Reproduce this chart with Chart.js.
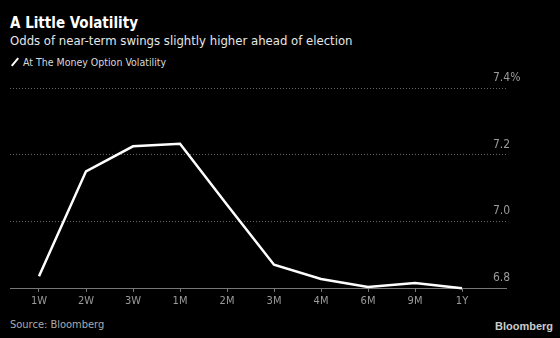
<!DOCTYPE html>
<html>
<head>
<meta charset="utf-8">
<script src="https://cdn.jsdelivr.net/npm/chart.js@4"></script>
<style>
    html, body { margin: 0; padding: 0; background: #000; }
    body { width: 560px; height: 338px; position: relative; overflow: hidden; font-family: "DejaVu Sans Condensed", "DejaVu Sans", sans-serif; }
    .title { position: absolute; left: 10px; top: 14px; color: #fff; font-size: 15px; font-weight: bold; }
    .subtitle { position: absolute; left: 10px; top: 33px; color: #e6e6e6; font-size: 13px; }
    .legend { position: absolute; left: 10px; top: 56px; color: #d9d9d9; font-size: 10.5px; }
    .legend i { display: inline-block; width: 2px; height: 10px; background: #fff; transform: rotate(40deg); margin: 0 7px 0 4px; vertical-align: -1px; }
    .source { position: absolute; left: 10px; top: 318px; color: #aaa; font-size: 11px; }
    .brand { position: absolute; right: 7px; top: 320px; color: #ccc; font-size: 11px; font-weight: bold; font-family: "Liberation Sans", sans-serif; }
    canvas { position: absolute; left: 0; top: 0; }
</style>
</head>
<body>
<div class="title">A Little Volatility</div>
<div class="subtitle">Odds of near-term swings slightly higher ahead of election</div>
<div class="legend"><i></i>At The Money Option Volatility</div>
<div class="source">Source: Bloomberg</div>
<div class="brand">Bloomberg</div>
<canvas id="chart" width="560" height="338"></canvas>
<script>
// Chart data
const tenors = ['1W', '2W', '3W', '1M', '2M', '3M', '4M', '6M', '9M', '1Y'];
const volatility = [6.835, 7.15, 7.225, 7.233, 7.05, 6.87, 6.827, 6.803, 6.815, 6.799];
const yTicks = [6.8, 7.0, 7.2, 7.4];

const grey = '#9a9a9a';
const fontFamily = '"DejaVu Sans Condensed", "DejaVu Sans", sans-serif';

// y labels sit just above their grid line, left-aligned
const yLabels = {
    id: 'yLabels',
    afterDraw: chart => {
        const y = chart.scales.y;
        const c = chart.ctx;
        c.save();
        c.fillStyle = grey;
        c.font = '12px ' + fontFamily;
        c.textAlign = 'left';
        c.textBaseline = 'bottom';
        yTicks.forEach(v => {
            const label = v === 7.4 ? '7.4%' : v.toFixed(1);
            c.fillText(label, chart.chartArea.right - 13, y.getPixelForValue(v) - 4);
        });
        c.restore();
    }
};

const ctx = document.getElementById('chart').getContext('2d');
new Chart(ctx, {
    type: 'line',
    data: {
        datasets: [{
            label: 'At The Money Option Volatility',
            data: volatility.map((v, i) => ({ x: i, y: v })),
            borderColor: '#fff',
            borderWidth: 2.5,
            pointRadius: 0,
            tension: 0,
            clip: false
        }]
    },
    options: {
        responsive: false,
        animation: false,
        layout: { padding: { top: 88, left: 10, right: 0, bottom: 20 } },
        plugins: { legend: { display: false }, tooltip: { enabled: false } },
        scales: {
            x: {
                type: 'linear',
                min: -0.617,
                max: 9.936,
                afterBuildTicks: scale => { scale.ticks = tenors.map((t, i) => ({ value: i })); },
                afterFit: scale => { scale.height = 30; },
                grid: { drawOnChartArea: false, drawTicks: true, tickLength: 4, color: '#777' },
                border: { display: true, color: '#777', width: 1 },
                ticks: {
                    color: grey,
                    font: { family: fontFamily, size: 11 },
                    padding: 3,
                    maxRotation: 0,
                    callback: v => tenors[v]
                }
            },
            y: {
                position: 'right',
                min: 6.8,
                max: 7.4,
                afterBuildTicks: scale => { scale.ticks = yTicks.map(v => ({ value: v })); },
                afterFit: scale => { scale.width = 54; },
                grid: {
                    drawTicks: false,
                    color: ctx => ctx.tick && ctx.tick.value === 6.8 ? 'rgba(0,0,0,0)' : '#666',
                    lineWidth: 1
                },
                border: { display: false, dash: [1, 2] },
                ticks: { display: false }
            }
        }
    },
    plugins: [yLabels]
});
</script>
</body>
</html>
